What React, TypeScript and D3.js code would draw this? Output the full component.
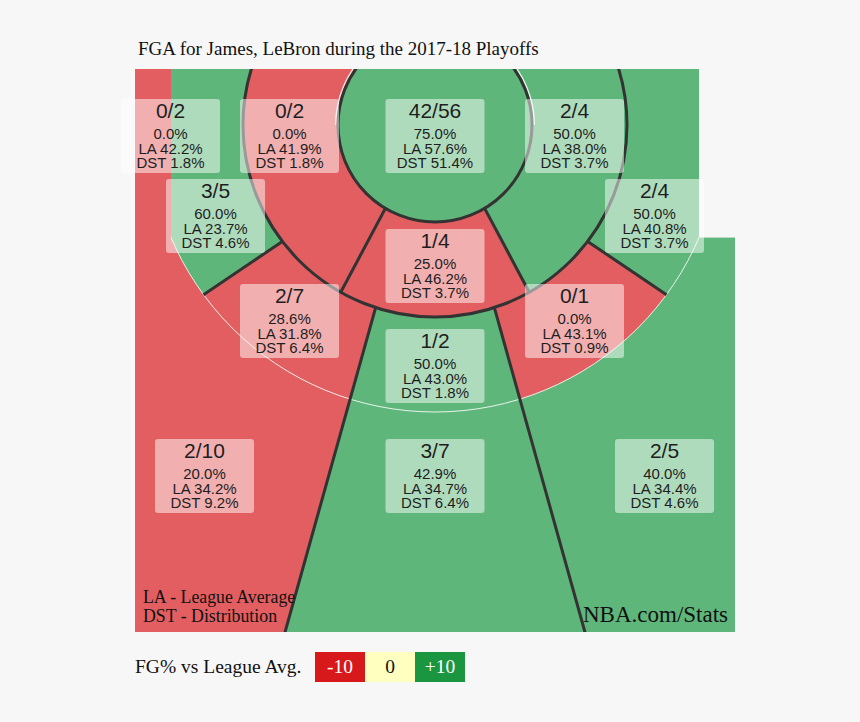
import React, { useEffect } from "react";
import * as d3 from "d3";

// ---------- data ----------
const zones = [
  "Left Corner 3",
  "Mid-Range Left",
  "Less Than 8 ft.",
  "Mid-Range Right",
  "16-24 ft. Left",
  "16-24 ft. Right",
  "8-16 ft. Center",
  "16-24 ft. Left Center",
  "16-24 ft. Right Center",
  "16-24 ft. Center",
  "24+ ft. Left",
  "24+ ft. Center",
  "24+ ft. Right",
  "Right Corner 3",
];
const made = [0, 0, 42, 2, 3, 2, 1, 2, 0, 1, 2, 3, 2, 0];
const attempts = [2, 2, 56, 4, 5, 4, 4, 7, 1, 2, 10, 7, 5, 0];
const leagueAvg = [42.2, 41.9, 57.6, 38.0, 23.7, 40.8, 46.2, 31.8, 43.1, 43.0, 34.2, 34.7, 34.4, 0];
const distribution = [1.8, 1.8, 51.4, 3.7, 4.6, 3.7, 3.7, 6.4, 0.9, 1.8, 9.2, 6.4, 4.6, 0];

const legendLabels = ["-10", "0", "+10"];
const legendColors = ["#d7191c", "#ffffbf", "#1a9641"];

const titleText = "FGA for James, LeBron during the 2017-18 Playoffs";

// ---------- layout ----------
const W = 860;
const H = 722;
const BG = "#f7f7f7";
const court = { x0: 135, x1: 735, y0: 69, y1: 632 };
const hoop = { x: 435, y: 125 };
const R1 = 97;
const R2 = 192;
const R3 = 287;
const cornerHalf = 264;
const cornerBottom = hoop.y + Math.sqrt(R3 * R3 - cornerHalf * cornerHalf);
// rays: vertex offset (from hoop y) and angle from straight down
const paintRay = { off: -10, ang: 28 };
const midRay = { off: 13.5, ang: 56 };
const centerRay = { off: -30, ang: 15.6 };

// label anchor boxes (center x, top y) per zone index
const labelBoxes: [number, number][] = [
  [170.5, 99], [289.5, 99], [435, 99], [574.5, 99],
  [215.5, 179], [654.5, 179], [435, 229],
  [289.5, 284], [574.5, 284], [435, 329],
  [204.5, 439], [435, 439], [664.5, 439],
];
const boxW = 99;
const boxH = 74;

const SANS = "'Liberation Sans', Arial, Helvetica, sans-serif";
const SERIF = "'Liberation Serif', 'Times New Roman', Times, serif";

// ---------- helpers ----------
function rayHit(r: { off: number; ang: number }, side: number, R: number): [number, number] {
  const a = (r.ang * Math.PI) / 180;
  const dx = side * Math.sin(a);
  const dy = Math.cos(a);
  const wd = r.off * dy;
  const t = -wd + Math.sqrt(wd * wd - r.off * r.off + R * R);
  return [hoop.x + t * dx, hoop.y + r.off + t * dy];
}
function rayAt(r: { off: number; ang: number }, side: number, t: number): [number, number] {
  const a = (r.ang * Math.PI) / 180;
  return [hoop.x + t * side * Math.sin(a), hoop.y + r.off + t * Math.cos(a)];
}
function vertex(r: { off: number }): [number, number] {
  return [hoop.x, hoop.y + r.off];
}
const poly = (pts: [number, number][]) => "M" + pts.map((p) => p.join(",")).join("L") + "Z";
const seg = (a: [number, number], b: [number, number]) => `M${a[0]},${a[1]}L${b[0]},${b[1]}`;

const FAR = 3000;

export default function App() {
  useEffect(() => {
    document.body.style.margin = "0";
    document.body.style.background = BG;
  }, []);

  const fgPct = made.map((m, i) => (attempts[i] > 0 ? (100 * m) / attempts[i] : NaN));
  const diffScale = d3
    .scaleThreshold<number, string>()
    .domain([0])
    .range([legendColors[0], legendColors[2]]);
  const soften = (c: string) => d3.interpolateRgb("#ffffff", c)(0.7);
  const fill = (i: number) => (attempts[i] > 0 ? soften(diffScale(fgPct[i] - leagueAvg[i])) : BG);

  const annulus = (ri: number, ro: number) =>
    d3.arc()({ innerRadius: ri, outerRadius: ro, startAngle: 0, endAngle: 2 * Math.PI } as any) as string;
  const circle = (r: number) =>
    d3.arc()({ innerRadius: 0, outerRadius: r, startAngle: 0, endAngle: 2 * Math.PI } as any) as string;

  const tr = `translate(${hoop.x},${hoop.y})`;

  // 24+ regions
  const leftOuter = poly([
    vertex(centerRay),
    rayAt(centerRay, -1, FAR),
    [-FAR, FAR],
    [-FAR, -FAR],
    [hoop.x, -FAR],
  ]);
  const centerOuter = poly([vertex(centerRay), rayAt(centerRay, -1, FAR), rayAt(centerRay, 1, FAR)]);

  // 16-24 wedges
  const wedge = (side: number) =>
    poly([
      rayHit(centerRay, side, R2 - 3),
      rayAt(centerRay, side, FAR),
      rayAt(midRay, side, FAR),
      rayHit(midRay, side, R2 - 3),
    ]);

  // 8-16 center
  const paintWedge = poly([vertex(paintRay), rayAt(paintRay, -1, FAR), rayAt(paintRay, 1, FAR)]);

  const fmt = d3.format(".1f");

  return (
    <svg
      width={W}
      height={H}
      style={{ position: "absolute", left: 0, top: 0, display: "block" }}
      xmlns="http://www.w3.org/2000/svg"
    >
      <defs>
        <clipPath id="courtClip">
          <rect x={court.x0} y={court.y0} width={court.x1 - court.x0} height={court.y1 - court.y0} />
        </clipPath>
        <clipPath id="xClip">
          <rect
            x={hoop.x - cornerHalf}
            y={court.y0}
            width={2 * cornerHalf}
            height={court.y1 - court.y0}
          />
        </clipPath>
        <clipPath id="ring2Clip">
          <path d={annulus(R2, R3)} transform={tr} />
        </clipPath>
        <clipPath id="ring1Clip">
          <path d={annulus(R1, R2)} transform={tr} />
        </clipPath>
      </defs>

      <rect x={0} y={0} width={W} height={H} fill={BG} />

      <text x={138} y={55} fontFamily={SERIF} fontSize={19} fill="#111">
        {titleText}
      </text>

      <g clipPath="url(#courtClip)">
        {/* 24+ ft */}
        <rect
          x={court.x0}
          y={court.y0}
          width={court.x1 - court.x0}
          height={court.y1 - court.y0}
          fill={fill(12)}
        />
        <path d={leftOuter} fill={fill(10)} />
        <path d={centerOuter} fill={fill(11)} />

        {/* 16-24 ft */}
        <g clipPath="url(#xClip)">
          <g clipPath="url(#ring2Clip)">
            <rect x={court.x0} y={court.y0} width={hoop.x - court.x0} height={court.y1 - court.y0} fill={fill(4)} />
            <rect x={hoop.x} y={court.y0} width={court.x1 - hoop.x} height={court.y1 - court.y0} fill={fill(5)} />
            <path d={wedge(-1)} fill={fill(7)} />
            <path d={wedge(1)} fill={fill(8)} />
            <path d={centerOuter} fill={fill(9)} />
          </g>
        </g>

        {/* corners */}
        <rect
          x={court.x0}
          y={court.y0}
          width={hoop.x - cornerHalf - court.x0}
          height={cornerBottom - court.y0}
          fill={fill(0)}
        />
        <rect
          x={hoop.x + cornerHalf}
          y={court.y0}
          width={court.x1 - hoop.x - cornerHalf}
          height={cornerBottom - court.y0}
          fill={fill(13)}
        />

        {/* 8-16 ft */}
        <g clipPath="url(#ring1Clip)">
          <rect x={court.x0} y={court.y0} width={hoop.x - court.x0} height={court.y1 - court.y0} fill={fill(1)} />
          <rect x={hoop.x} y={court.y0} width={court.x1 - hoop.x} height={court.y1 - court.y0} fill={fill(3)} />
          <path d={paintWedge} fill={fill(6)} />
        </g>

        {/* < 8 ft */}
        <path d={circle(R1)} transform={tr} fill={fill(2)} />

        {/* lines */}
        <g clipPath="url(#xClip)">
          <circle cx={hoop.x} cy={hoop.y} r={R3} fill="none" stroke="#ffffff" strokeOpacity={0.85} strokeWidth={1} />
        </g>
        <path
          d={
            d3.arc()({ innerRadius: R1 + 1.6, outerRadius: R1 + 3, startAngle: -Math.PI / 2, endAngle: Math.PI / 2 } as any) as string
          }
          transform={tr}
          fill="#ffffff"
          fillOpacity={0.85}
        />
        <g fill="none" stroke="#333333" strokeWidth={3}>
          <circle cx={hoop.x} cy={hoop.y} r={R1} />
          <circle cx={hoop.x} cy={hoop.y} r={R2} />
          {[-1, 1].map((s) => (
            <g key={s}>
              <path d={seg(rayHit(paintRay, s, R1), rayHit(paintRay, s, R2))} />
              <path d={seg(rayHit(midRay, s, R2), rayHit(midRay, s, R3))} />
              <path d={seg(rayHit(centerRay, s, R2), rayAt(centerRay, s, FAR))} />
            </g>
          ))}
        </g>
      </g>

      {/* zone labels */}
      {labelBoxes.map(([cx, top], i) => (
        <g key={zones[i]}>
          <rect x={cx - boxW / 2} y={top} width={boxW} height={boxH} rx={3} fill="#ffffff" fillOpacity={0.5} />
          <g fontFamily={SANS} fill="#1e1e1e" textAnchor="middle">
            <text x={cx} y={top + 19} fontSize={21}>
              {`${made[i]}/${attempts[i]}`}
            </text>
            <text x={cx} y={top + 40} fontSize={15}>
              {`${fmt(fgPct[i])}%`}
            </text>
            <text x={cx} y={top + 54.6} fontSize={15}>
              {`LA ${fmt(leagueAvg[i])}%`}
            </text>
            <text x={cx} y={top + 69.2} fontSize={15}>
              {`DST ${fmt(distribution[i])}%`}
            </text>
          </g>
        </g>
      ))}

      <g fontFamily={SERIF} fill="#111">
        <text x={143} y={603} fontSize={17.8}>
          LA - League Average
        </text>
        <text x={143} y={622} fontSize={17.8}>
          DST - Distribution
        </text>
        <text x={728} y={622} fontSize={23} textAnchor="end">
          NBA.com/Stats
        </text>
      </g>

      {/* legend */}
      <g fontFamily={SERIF}>
        <text x={135} y={673} fontSize={19.5} fill="#111">
          FG% vs League Avg.
        </text>
        {legendLabels.map((lab, i) => (
          <g key={lab}>
            <rect x={315 + i * 50} y={652} width={50} height={30} fill={legendColors[i]} />
            <text
              x={315 + i * 50 + 25}
              y={673}
              fontSize={19.5}
              textAnchor="middle"
              fill={i === 1 ? "#111" : "#ffffff"}
            >
              {lab}
            </text>
          </g>
        ))}
      </g>
    </svg>
  );
}
